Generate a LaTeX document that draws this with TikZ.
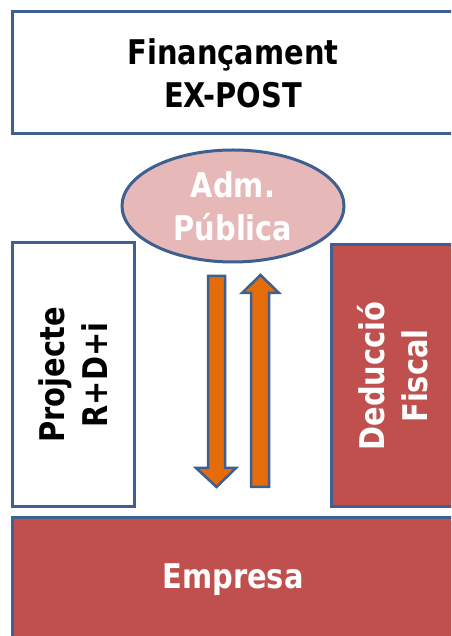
\documentclass[tikz,border=0pt]{standalone}
\usepackage{fontspec}
\usetikzlibrary{shapes.geometric}
\newfontfamily\labfont{DejaVu Sans}[FakeStretch=0.85]
\definecolor{edgeblue}{HTML}{3D6091}
\definecolor{brick}{HTML}{C0504D}
\definecolor{rose}{HTML}{E6B9B8}
\definecolor{flow}{HTML}{E46C0A}
\tikzset{
  lab/.style={font=\labfont\bfseries\fontsize{34}{43}\selectfont, align=center},
  panel/.style={rectangle, draw=edgeblue, line width=3pt, inner sep=0pt, lab},
  plainpanel/.style={panel, fill=white, text=black},
  redpanel/.style={panel, fill=brick, text=white},
  oval/.style={ellipse, draw=edgeblue, line width=3pt, fill=rose, text=white, inner sep=0pt, lab},
  blockarrow/.style={draw=edgeblue, line width=2.5pt, fill=flow, line join=miter}
}
\begin{document}
\begin{tikzpicture}[x=1pt, y=1pt]
  \useasboundingbox (0,0) rectangle (451,636);
  \clip (0,0) rectangle (451,636);
  \fill[white] (0,0) rectangle (451,636);

  % top heading panel
  \node[plainpanel, minimum width=442pt, minimum height=122pt] (finan) at (233,563)
    {Finançament\\EX-POST};

  % side panels, set upright then turned a quarter
  \node[plainpanel, rotate=90, minimum width=264pt, minimum height=122pt] (proj) at (73,261)
    {Projecte\\R+D+i};
  \node[redpanel, rotate=90, minimum width=262pt, minimum height=123pt] (dedu) at (392.5,260)
    {Deducció\\Fiscal};

  % bottom panel
  \node[redpanel, minimum width=442pt, minimum height=124pt] (empr) at (233,56)
    {Empresa};

  % public administration
  \node[oval, minimum width=222pt, minimum height=112pt] (adm) at (233,430)
    {Adm.\\Pública};

  % downward block arrow
  \draw[blockarrow] (208,360) -- (225,360) -- (225,168) -- (236,168) -- (216.5,149)
    -- (196,168) -- (208,168) -- cycle;
  % upward block arrow
  \draw[blockarrow] (251,149) -- (269,149) -- (269,343) -- (279,343) -- (260.5,361)
    -- (242,343) -- (251,343) -- cycle;
\end{tikzpicture}
\end{document}
